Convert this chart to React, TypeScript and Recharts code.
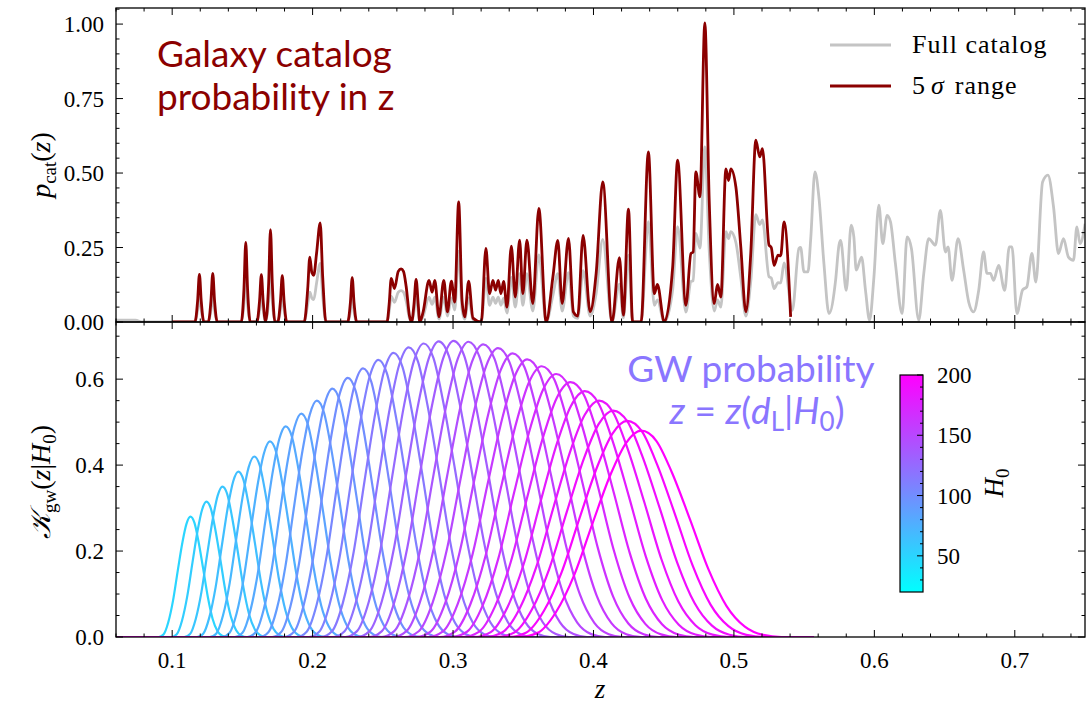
import React from 'react';
import { LineChart, Line, XAxis, YAxis } from 'recharts';

// ---------------- data ----------------
const Z_DOMAIN: [number, number] = [0.06, 0.75];
const P_DOMAIN: [number, number] = [0, 1.054];
const K_DOMAIN: [number, number] = [0, 0.733];

const X_MAJOR_TICKS = [0.1, 0.2, 0.3, 0.4, 0.5, 0.6, 0.7];
const P_MAJOR_TICKS = [0, 0.25, 0.5, 0.75, 1.0];
const K_MAJOR_TICKS = [0, 0.2, 0.4, 0.6];
const CBAR_MAJOR_TICKS = [50, 100, 150, 200];
const CBAR_RANGE: [number, number] = [20, 200];

// 5 sigma range catalog probability [z, p]
const range5Sigma: [number, number][] = [
  [0.100, 0], [0.1162, 0], [0.1181, 0.07], [0.1194, 0.16], [0.1207, 0.07], [0.1226, 0],
  [0.1257, 0], [0.1276, 0.07], [0.1289, 0.163], [0.1302, 0.07], [0.1321, 0],
  [0.1492, 0], [0.1511, 0.11], [0.1524, 0.267], [0.1537, 0.11], [0.1556, 0],
  [0.1603, 0], [0.1622, 0.07], [0.1635, 0.159], [0.1648, 0.07], [0.1665, 0.002],
  [0.1687, 0.13], [0.1700, 0.31], [0.1713, 0.13], [0.1732, 0],
  [0.1752, 0], [0.1771, 0.07], [0.1784, 0.156], [0.1797, 0.07], [0.1816, 0],
  [0.1940, 0], [0.1965, 0.11], [0.1980, 0.218], [0.1995, 0.165], [0.2008, 0.157], [0.2028, 0.23],
  [0.2054, 0.333], [0.2072, 0.15], [0.2095, 0],
  [0.2250, 0], [0.2269, 0.065], [0.2282, 0.149], [0.2295, 0.065], [0.2314, 0],
  [0.2530, 0], [0.2545, 0.06], [0.2560, 0.146], [0.2583, 0.112], [0.2610, 0.17], [0.2630, 0.178],
  [0.2647, 0.17], [0.2666, 0.12], [0.2690, 0.02], [0.2705, 0],
  [0.2722, 0.06], [0.2737, 0.143], [0.2752, 0.06], [0.2763, 0.0],
  [0.2787, 0.034], [0.2829, 0.14], [0.2851, 0.1], [0.2870, 0.14], [0.2900, 0.017], [0.2934, 0.14],
  [0.2960, 0.034], [0.2988, 0.137], [0.3012, 0.067], [0.3040, 0.403], [0.3064, 0.073], [0.3083, 0.017],
  [0.3111, 0.137], [0.3142, 0.013], [0.3201, 0], [0.3234, 0.247], [0.3260, 0.095], [0.3284, 0.14],
  [0.3303, 0.107], [0.3322, 0.14], [0.3341, 0.095], [0.3360, 0.136], [0.3384, 0.05], [0.3415, 0.255],
  [0.3443, 0.084], [0.3474, 0.275], [0.3497, 0.095], [0.3526, 0.275], [0.3568, 0.062], [0.3611, 0.381],
  [0.3663, 0], [0.3711, 0.151], [0.3746, 0.274], [0.3777, 0.062], [0.3822, 0.281], [0.3857, 0.034],
  [0.3888, 0.02], [0.3926, 0.291], [0.3976, 0.034], [0.4019, 0.163], [0.4066, 0.47], [0.4132, 0],
  [0.4185, 0.216], [0.4213, 0.023], [0.4249, 0.379], [0.4279, 0], [0.4339, 0], [0.4391, 0.571],
  [0.4433, 0.095], [0.4455, 0.126], [0.4504, 0], [0.4564, 0.185], [0.4599, 0.543], [0.4658, 0.056],
  [0.4694, 0.23], [0.4710, 0.235], [0.4729, 0.504], [0.4758, 0.42], [0.4793, 1.004], [0.4824, 0.409],
  [0.4860, 0.062], [0.4883, 0.126], [0.4907, 0.084], [0.4943, 0.514], [0.4962, 0.475], [0.4978, 0.514],
  [0.5014, 0.453], [0.5049, 0.252], [0.5085, 0.034], [0.5120, 0.23], [0.5156, 0.61], [0.5184, 0.554],
  [0.5203, 0.582], [0.5250, 0.258], [0.5266, 0.25], [0.5286, 0.19], [0.5314, 0.224], [0.5333, 0.222],
  [0.5357, 0.336], [0.5404, 0.017],
];

// full catalog probability [z, p]
const fullCatalog: [number, number][] = [
  [0.060, 0.006], [0.074, 0.006], [0.078, 0], [0.100, 0],
  [0.1162, 0], [0.1181, 0.04], [0.1194, 0.094], [0.1207, 0.04], [0.1226, 0],
  [0.1257, 0], [0.1276, 0.04], [0.1289, 0.096], [0.1302, 0.04], [0.1321, 0],
  [0.1492, 0], [0.1511, 0.06], [0.1524, 0.158], [0.1537, 0.06], [0.1556, 0],
  [0.1603, 0], [0.1622, 0.04], [0.1635, 0.094], [0.1648, 0.04], [0.1665, 0.001],
  [0.1687, 0.07], [0.1700, 0.183], [0.1713, 0.07], [0.1732, 0],
  [0.1752, 0], [0.1771, 0.04], [0.1784, 0.092], [0.1797, 0.04], [0.1816, 0],
  [0.1940, 0], [0.1965, 0.06], [0.1980, 0.1], [0.1995, 0.08], [0.2008, 0.075], [0.2028, 0.13],
  [0.2054, 0.197], [0.2072, 0.088], [0.2095, 0],
  [0.2250, 0], [0.2269, 0.035], [0.2282, 0.088], [0.2295, 0.035], [0.2314, 0],
  [0.2530, 0], [0.2545, 0.035], [0.2560, 0.086], [0.2583, 0.066], [0.2610, 0.1], [0.2630, 0.105],
  [0.2647, 0.1], [0.2666, 0.071], [0.2690, 0.012], [0.2705, 0],
  [0.2722, 0.035], [0.2737, 0.084], [0.2752, 0.035], [0.2763, 0],
  [0.2787, 0.02], [0.2829, 0.083], [0.2851, 0.059], [0.2870, 0.083], [0.2900, 0.01], [0.2934, 0.083],
  [0.2960, 0.02], [0.2988, 0.081], [0.3012, 0.04], [0.3040, 0.238], [0.3064, 0.043], [0.3083, 0.01],
  [0.3111, 0.081], [0.3142, 0.008], [0.3201, 0], [0.3234, 0.146], [0.3260, 0.056], [0.3284, 0.083],
  [0.3303, 0.063], [0.3322, 0.083], [0.3341, 0.056], [0.3360, 0.08], [0.3384, 0.03], [0.3415, 0.15],
  [0.3443, 0.05], [0.3474, 0.162], [0.3497, 0.056], [0.3526, 0.162], [0.3568, 0.037], [0.3611, 0.225],
  [0.3663, 0], [0.3711, 0.089], [0.3746, 0.162], [0.3777, 0.037], [0.3822, 0.166], [0.3857, 0.02],
  [0.3888, 0.012], [0.3926, 0.172], [0.3976, 0.02], [0.4019, 0.096], [0.4066, 0.277], [0.4132, 0],
  [0.4185, 0.127], [0.4213, 0.014], [0.4249, 0.224], [0.4279, 0], [0.4339, 0], [0.4391, 0.337],
  [0.4433, 0.056], [0.4455, 0.074], [0.4504, 0], [0.4564, 0.109], [0.4599, 0.32], [0.4658, 0.033],
  [0.4694, 0.136], [0.4710, 0.139], [0.4729, 0.297], [0.4758, 0.248], [0.4793, 0.588], [0.4824, 0.241],
  [0.4860, 0.037], [0.4883, 0.074], [0.4907, 0.05], [0.4943, 0.303], [0.4962, 0.28], [0.4978, 0.303],
  [0.5014, 0.267], [0.5049, 0.149], [0.5085, 0.02], [0.5120, 0.136], [0.5156, 0.36], [0.5184, 0.327],
  [0.5203, 0.343], [0.5250, 0.152], [0.5266, 0.148], [0.5286, 0.112], [0.5314, 0.132], [0.5333, 0.131],
  [0.5357, 0.198], [0.5416, 0.039], [0.5463, 0.247], [0.5475, 0.25], [0.5499, 0.168], [0.5527, 0.168],
  [0.5547, 0.28], [0.5577, 0.504], [0.5605, 0.42], [0.5641, 0.196], [0.5677, 0.028], [0.5724, 0.14],
  [0.5748, 0.258], [0.5760, 0.274], [0.5800, 0.106], [0.5835, 0.325], [0.5854, 0.286], [0.5871, 0.174],
  [0.5909, 0.218], [0.5937, 0.106], [0.5966, 0.006], [0.5997, 0.151], [0.6032, 0.392], [0.6060, 0.263],
  [0.6091, 0.358], [0.6115, 0.336], [0.6150, 0.196], [0.6198, 0.028], [0.6233, 0.286], [0.6264, 0.247],
  [0.6316, 0.006], [0.6352, 0.163], [0.6387, 0.28], [0.6435, 0.258], [0.6470, 0.375], [0.6506, 0.235],
  [0.6525, 0.252], [0.6553, 0.14], [0.6596, 0.28], [0.6636, 0.174], [0.6672, 0.067], [0.6707, 0.034],
  [0.6743, 0.106], [0.6778, 0.235], [0.6802, 0.163], [0.6826, 0.163], [0.6849, 0.14], [0.6885, 0.19],
  [0.6928, 0.106], [0.6961, 0.252], [0.6980, 0.252], [0.7015, 0.028], [0.7056, 0.108], [0.7086, 0.118],
  [0.7122, 0.23], [0.7150, 0.134], [0.7198, 0.47], [0.7236, 0.493], [0.7276, 0.386], [0.7311, 0.23],
  [0.7347, 0.28], [0.7382, 0.218], [0.7418, 0.207], [0.7442, 0.319], [0.7465, 0.263], [0.7501, 0.33],
];

// GW kernel curves: one per H0
const H0_VALUES = [50, 55, 60, 65, 70, 75, 80, 85, 90, 95, 100, 105, 110, 115, 120, 125, 130, 135, 140,
  145, 150, 155, 160, 165, 170, 175, 180, 185, 190, 195, 200];
const GW_PEAK_Z = [0.1130, 0.1244, 0.1358, 0.1471, 0.1584, 0.1696, 0.1808, 0.1919, 0.2030, 0.2140,
  0.2250, 0.2359, 0.2468, 0.2576, 0.2684, 0.2791, 0.2898, 0.3004, 0.3110, 0.3215, 0.3320, 0.3424,
  0.3528, 0.3631, 0.3734, 0.3836, 0.3938, 0.4039, 0.4140, 0.4240, 0.4340];
const GW_PEAK_K = [0.28, 0.315, 0.35, 0.385, 0.42, 0.455, 0.49, 0.52, 0.55, 0.578, 0.603, 0.625, 0.645,
  0.661, 0.674, 0.683, 0.688, 0.689, 0.687, 0.681, 0.672, 0.66, 0.646, 0.63, 0.612, 0.593, 0.572, 0.55,
  0.527, 0.503, 0.48];
// shared curve profile: relative offset from peak z, and relative height
const GW_PROFILE_U = [-0.20, -0.17, -0.14, -0.11, -0.08, -0.05, -0.025, 0, 0.025, 0.05, 0.08, 0.11, 0.14, 0.17, 0.20, 0.23];
const GW_PROFILE_F = [0, 0.02, 0.12, 0.3, 0.55, 0.79, 0.94, 1, 0.95, 0.8, 0.57, 0.33, 0.15, 0.05, 0.01, 0];
const GW_Z_RANGE: [number, number] = [0.06, 0.557];

// ---------------- layout / style ----------------
const W = 1087;
const H = 709;
const PLOT_LEFT = 116;
const PLOT_RIGHT = 1085;
const TOP_PANEL = { top: 8, bottom: 322 };
const BOT_PANEL = { top: 322, bottom: 637 };
const SERIF = '"Liberation Serif", "DejaVu Serif", serif';
const SANS = 'Lato, "Open Sans", sans-serif';
const TICK_FS = 23;
const RED = '#8b0000';
const GRAY = '#c4c4c4';
const GW_TEXT = 'rgb(138,118,255)';

const coolColor = (h0: number) => {
  const t = (h0 - CBAR_RANGE[0]) / (CBAR_RANGE[1] - CBAR_RANGE[0]);
  return `rgb(${Math.round(255 * t)}, ${Math.round(255 * (1 - t))}, 255)`;
};

const r2 = (v: number) => Math.round(v * 1000) / 1000;
const buildTicks = (lo: number, hi: number, step: number) => {
  const out: number[] = [];
  for (let v = lo; v <= hi + 1e-9; v += step) out.push(r2(v));
  return out;
};
const isIn = (v: number, arr: number[]) => arr.some((m) => Math.abs(m - v) < 1e-6);

const X_ALL_TICKS = buildTicks(0.06, 0.74, 0.02).concat(X_MAJOR_TICKS).sort((a, b) => a - b)
  .filter((v, i, a) => i === 0 || Math.abs(v - a[i - 1]) > 1e-6);
const P_ALL_TICKS = buildTicks(0, 1.05, 0.05);
const K_ALL_TICKS = buildTicks(0, 0.7, 0.05);

const catalogData5 = range5Sigma.map(([z, p]) => ({ z, p }));
const catalogDataFull = fullCatalog.map(([z, p]) => ({ z, p }));
const gwCurves = H0_VALUES.map((h0, i) => {
  const zp = GW_PEAK_Z[i];
  const kp = GW_PEAK_K[i];
  const pts = [{ z: GW_Z_RANGE[0], k: 0 }];
  GW_PROFILE_U.forEach((u, j) => pts.push({ z: zp * (1 + u), k: kp * GW_PROFILE_F[j] }));
  pts.push({ z: GW_Z_RANGE[1], k: 0 });
  return { h0, pts };
});

const makeXTick = (plotTop: number, labels: boolean) => (props: any) => {
  const { x, y, payload } = props;
  const major = isIn(payload.value, X_MAJOR_TICKS);
  const len = major ? 7 : 3.5;
  return (
    <g>
      <line x1={x} x2={x} y1={y} y2={y - len} stroke="#000" strokeWidth={1} />
      <line x1={x} x2={x} y1={plotTop} y2={plotTop + len} stroke="#000" strokeWidth={1} />
      {labels && major ? (
        <text x={x} y={y + 31} textAnchor="middle" fontFamily={SERIF} fontSize={TICK_FS} fill="#000">
          {payload.value.toFixed(1)}
        </text>
      ) : null}
    </g>
  );
};

const makeYTick = (majors: number[], digits: number) => (props: any) => {
  const { x, y, payload } = props;
  const major = isIn(payload.value, majors);
  const len = major ? 7 : 3.5;
  return (
    <g>
      <line x1={x} x2={x + len} y1={y} y2={y} stroke="#000" strokeWidth={1} />
      <line x1={PLOT_RIGHT} x2={PLOT_RIGHT - len} y1={y} y2={y} stroke="#000" strokeWidth={1} />
      {major ? (
        <text x={x - 12} y={y + 8} textAnchor="end" fontFamily={SERIF} fontSize={TICK_FS} fill="#000">
          {payload.value.toFixed(digits)}
        </text>
      ) : null}
    </g>
  );
};

const CB = { x: 900, y: 375, w: 23, h: 217 };
const cbY = (v: number) => CB.y + CB.h - ((v - CBAR_RANGE[0]) / (CBAR_RANGE[1] - CBAR_RANGE[0])) * CB.h;
const CB_ALL = buildTicks(30, 200, 10);

export default function App() {
  return (
    <div style={{ position: 'absolute', left: 0, top: 0, width: W, height: H, background: '#fff' }}>
      {/* top panel */}
      <div style={{ position: 'absolute', left: 0, top: 0 }}>
        <LineChart width={W} height={TOP_PANEL.bottom + 20}
          margin={{ top: TOP_PANEL.top, right: W - PLOT_RIGHT, left: 0, bottom: 0 }}>
          <XAxis type="number" dataKey="z" domain={Z_DOMAIN} allowDataOverflow ticks={X_ALL_TICKS}
            interval={0} height={20} tickSize={0} tickMargin={0} axisLine={false} tickLine={false}
            tick={makeXTick(TOP_PANEL.top, false)} />
          <YAxis type="number" domain={P_DOMAIN} allowDataOverflow ticks={P_ALL_TICKS} interval={0}
            width={PLOT_LEFT} tickSize={0} tickMargin={0} axisLine={false} tickLine={false}
            tick={makeYTick(P_MAJOR_TICKS, 2)} />
          <Line data={catalogDataFull} dataKey="p" type="monotone" stroke={GRAY} strokeWidth={2.8}
            dot={false} activeDot={false} isAnimationActive={false} />
          <Line data={catalogData5} dataKey="p" type="monotone" stroke={RED} strokeWidth={2.8}
            dot={false} activeDot={false} isAnimationActive={false} />
        </LineChart>
      </div>
      {/* bottom panel */}
      <div style={{ position: 'absolute', left: 0, top: 0 }}>
        <LineChart width={W} height={H}
          margin={{ top: BOT_PANEL.top, right: W - PLOT_RIGHT, left: 0, bottom: 0 }}>
          <XAxis type="number" dataKey="z" domain={Z_DOMAIN} allowDataOverflow ticks={X_ALL_TICKS}
            interval={0} height={H - BOT_PANEL.bottom} tickSize={0} tickMargin={0} axisLine={false}
            tickLine={false} tick={makeXTick(BOT_PANEL.top, true)} />
          <YAxis type="number" domain={K_DOMAIN} allowDataOverflow ticks={K_ALL_TICKS} interval={0}
            width={PLOT_LEFT} tickSize={0} tickMargin={0} axisLine={false} tickLine={false}
            tick={makeYTick(K_MAJOR_TICKS, 1)} />
          {gwCurves.map((c) => (
            <Line key={c.h0} data={c.pts} dataKey="k" type="monotone" stroke={coolColor(c.h0)}
              strokeWidth={2.2} dot={false} activeDot={false} isAnimationActive={false} />
          ))}
        </LineChart>
      </div>
      {/* overlay: frames, labels, legend, colorbar */}
      <svg width={W} height={H} style={{ position: 'absolute', left: 0, top: 0, pointerEvents: 'none' }}>
        <defs>
          <linearGradient id="coolGrad" x1="0" y1="1" x2="0" y2="0">
            <stop offset="0%" stopColor={coolColor(20)} />
            <stop offset="100%" stopColor={coolColor(200)} />
          </linearGradient>
        </defs>
        <rect x={PLOT_LEFT} y={TOP_PANEL.top} width={PLOT_RIGHT - PLOT_LEFT} height={TOP_PANEL.bottom - TOP_PANEL.top}
          fill="none" stroke="#000" strokeWidth={1.3} />
        <rect x={PLOT_LEFT} y={BOT_PANEL.top} width={PLOT_RIGHT - PLOT_LEFT} height={BOT_PANEL.bottom - BOT_PANEL.top}
          fill="none" stroke="#000" strokeWidth={1.3} />

        {/* axis titles */}
        <text transform="rotate(-90 50 165)" x={50} y={165} textAnchor="middle" fontFamily={SERIF} fontSize={28}>
          <tspan fontStyle="italic">p</tspan>
          <tspan fontSize={19} dy={6}>cat</tspan>
          <tspan dy={-6}>(</tspan>
          <tspan fontStyle="italic">z</tspan>
          <tspan>)</tspan>
        </text>
        <text transform="rotate(-90 50 482)" x={50} y={482} textAnchor="middle" fontFamily={SERIF} fontSize={28}>
          <tspan fontStyle="italic">𝒦</tspan>
          <tspan fontSize={19} dy={6}>gw</tspan>
          <tspan dy={-6}>(</tspan>
          <tspan fontStyle="italic">z</tspan>
          <tspan>|</tspan>
          <tspan fontStyle="italic">H</tspan>
          <tspan fontSize={19} dy={6}>0</tspan>
          <tspan dy={-6}>)</tspan>
        </text>
        <text x={600} y={698} textAnchor="middle" fontFamily={SERIF} fontSize={27} fontStyle="italic">z</text>

        {/* legend */}
        <line x1={830} x2={891} y1={45} y2={45} stroke={GRAY} strokeWidth={2.8} />
        <text x={912} y={53} fontFamily={SERIF} fontSize={26} letterSpacing={1}>Full catalog</text>
        <line x1={830} x2={891} y1={86} y2={86} stroke={RED} strokeWidth={2.8} />
        <text x={912} y={94} fontFamily={SERIF} fontSize={26} letterSpacing={1}>
          <tspan>5</tspan>
          <tspan fontStyle="italic" dx={5}>σ</tspan>
          <tspan dx={10}>range</tspan>
        </text>

        {/* annotations */}
        <text x={157} y={67} fontFamily={SANS} fontSize={37} fill={RED}>Galaxy catalog</text>
        <text x={157} y={110} fontFamily={SANS} fontSize={37} fill={RED}>probability in z</text>
        <text x={751} y={382} textAnchor="middle" fontFamily={SANS} fontSize={37} fill={GW_TEXT}>GW probability</text>
        <text x={757} y={424} textAnchor="middle" fontFamily={SANS} fontSize={37} fill={GW_TEXT}>
          <tspan fontStyle="italic">z</tspan>
          <tspan> = </tspan>
          <tspan fontStyle="italic">z</tspan>
          <tspan>(</tspan>
          <tspan fontStyle="italic">d</tspan>
          <tspan fontSize={26} dy={7}>L</tspan>
          <tspan dy={-7}>|</tspan>
          <tspan fontStyle="italic">H</tspan>
          <tspan fontSize={26} dy={7}>0</tspan>
          <tspan dy={-7}>)</tspan>
        </text>

        {/* colorbar */}
        <rect x={CB.x} y={CB.y} width={CB.w} height={CB.h} fill="url(#coolGrad)" stroke="#000" strokeWidth={1.2} />
        {CB_ALL.map((v) => {
          const major = isIn(v, CBAR_MAJOR_TICKS);
          const yy = cbY(v);
          return (
            <g key={v}>
              <line x1={CB.x + CB.w} x2={CB.x + CB.w - (major ? 6 : 3)} y1={yy} y2={yy} stroke="#000" strokeWidth={1} />
              {major ? (
                <text x={CB.x + CB.w + 14} y={yy + 8} fontFamily={SERIF} fontSize={TICK_FS}>{v}</text>
              ) : null}
            </g>
          );
        })}
        <text transform="rotate(-90 1003 483)" x={1003} y={483} textAnchor="middle" fontFamily={SERIF} fontSize={27}>
          <tspan fontStyle="italic">H</tspan>
          <tspan fontSize={19} dy={6}>0</tspan>
        </text>
      </svg>
    </div>
  );
}
